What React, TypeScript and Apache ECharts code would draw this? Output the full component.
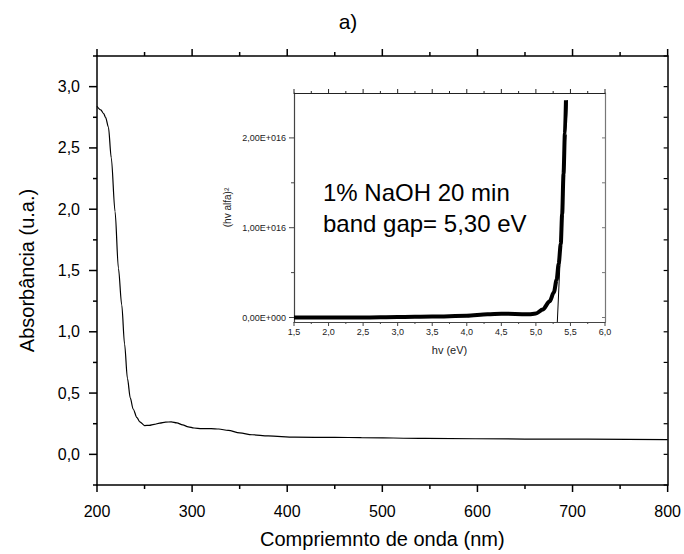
import React, { useEffect, useRef } from "react";
import * as echarts from "echarts";

// Main spectrum
const wavelength = [200, 204, 207, 209, 212, 215, 219, 222.5, 226, 229, 232, 235, 238, 242, 245, 250, 255, 260, 266, 272, 278, 284, 290, 296, 302, 310, 320, 328, 338, 350, 363, 380, 408, 450, 478, 545, 650, 800];
const absorbance = [2.84, 2.81, 2.78, 2.75, 2.67, 2.42, 1.98, 1.52, 1.22, 0.9, 0.62, 0.46, 0.37, 0.3, 0.265, 0.235, 0.237, 0.245, 0.255, 0.263, 0.265, 0.257, 0.24, 0.225, 0.215, 0.21, 0.21, 0.207, 0.195, 0.175, 0.16, 0.15, 0.14, 0.138, 0.137, 0.13, 0.125, 0.12];

// Inset (Tauc plot), values in units of 1E+016
const hv = [1.5, 2.0, 2.5, 3.0, 3.5, 4.0, 4.3, 4.5, 4.7, 4.9, 5.0, 5.1, 5.2, 5.26, 5.3, 5.33, 5.36, 5.38, 5.4, 5.42, 5.435];
const hvAlpha2 = [0.0, 0.0, 0.0, 0.005, 0.01, 0.02, 0.035, 0.042, 0.04, 0.035, 0.045, 0.09, 0.18, 0.28, 0.42, 0.6, 0.82, 1.15, 1.6, 2.05, 2.42];
const tangentX = [5.31, 5.455];
const tangentY = [-0.05, 2.42];

// Axis ranges and tick values
const MAIN_X = [200, 800];
const MAIN_Y = [-0.25, 3.25];
const INSET_X = [1.5, 6.0];
const INSET_Y = [-0.05, 2.5];
const mainXMajor = [200, 300, 400, 500, 600, 700, 800];
const mainXMinor = [250, 350, 450, 550, 650, 750];
const mainYMajor = [0, 0.5, 1.0, 1.5, 2.0, 2.5, 3.0];
const mainYMinor = [-0.25, 0.25, 0.75, 1.25, 1.75, 2.25, 2.75, 3.25];
const insetXMajor = [1.5, 2.0, 2.5, 3.0, 3.5, 4.0, 4.5, 5.0, 5.5, 6.0];
const insetXMinor = [1.75, 2.25, 2.75, 3.25, 3.75, 4.25, 4.75, 5.25, 5.75];
const insetYMajor = [0, 1, 2];
const insetYMinor = [0.5, 1.5];

const FONT = "Liberation Sans, Arial, Helvetica, sans-serif";

export default function App() {
  const ref = useRef<HTMLDivElement>(null);
  useEffect(() => {
    if (!ref.current) return;
    const chart = echarts.init(ref.current, null, { renderer: "svg" });
    const black = "#000";
    const insetLine = "#444";
    const mainAxisBase = {
      type: "value",
      splitLine: { show: false },
      axisTick: { show: false },
      axisLine: { show: true, onZero: false, lineStyle: { color: black, width: 1.5 } },
    };
    const insetAxisBase = {
      type: "value",
      splitLine: { show: false },
      axisTick: { show: false },
      axisLine: { show: true, onZero: false, lineStyle: { color: insetLine, width: 1.2 } },
    };
    // Tick marks drawn as filled rects at positions given by the axes' scales.
    // side: 'down' | 'up' | 'left' (vertical ticks on horizontal axes, horizontal ticks on vertical axes)
    const ticks = (
      xi: number,
      yi: number,
      points: number[][],
      side: string,
      len: number,
      thick: number,
      color: string
    ) => ({
      type: "custom",
      xAxisIndex: xi,
      yAxisIndex: yi,
      silent: true,
      clip: false,
      z: 10,
      data: points,
      renderItem: (params: any, api: any) => {
        const p = api.coord([api.value(0), api.value(1)]);
        let shape: any;
        if (side === "down") shape = { x: p[0] - thick / 2, y: p[1], width: thick, height: len };
        else if (side === "up") shape = { x: p[0] - thick / 2, y: p[1] - len, width: thick, height: len };
        else shape = { x: p[0] - len, y: p[1] - thick / 2, width: len, height: thick };
        return { type: "rect", shape, style: { fill: color } };
      },
    });
    const option: any = {
      animation: false,
      grid: [
        { left: 97, right: 16, top: 56, bottom: 67 },
        { left: 294, right: 79, top: 93, bottom: 232 },
      ],
      xAxis: [
        {
          ...mainAxisBase,
          gridIndex: 0,
          position: "bottom",
          min: MAIN_X[0],
          max: MAIN_X[1],
          interval: 100,
          axisLabel: { fontSize: 16, color: black, margin: 18, fontFamily: FONT },
          name: "Compriemnto de onda (nm)",
          nameLocation: "middle",
          nameGap: 44,
          nameTextStyle: { fontSize: 20, color: black, fontFamily: FONT },
        },
        {
          ...mainAxisBase,
          gridIndex: 0,
          position: "top",
          min: MAIN_X[0],
          max: MAIN_X[1],
          interval: 100,
          axisLabel: { show: false },
        },
        {
          ...insetAxisBase,
          gridIndex: 1,
          position: "bottom",
          min: INSET_X[0],
          max: INSET_X[1],
          interval: 0.5,
          axisLabel: {
            fontSize: 9,
            color: "#222",
            margin: 5,
            fontFamily: FONT,
            formatter: (v: number) => v.toFixed(1).replace(".", ","),
          },
          name: "hv (eV)",
          nameLocation: "middle",
          nameGap: 22,
          nameTextStyle: { fontSize: 11, color: "#222", fontFamily: FONT },
        },
        {
          ...insetAxisBase,
          gridIndex: 1,
          position: "top",
          min: INSET_X[0],
          max: INSET_X[1],
          interval: 0.5,
          axisLine: { show: true, onZero: false, lineStyle: { color: "#222", width: 1.2 } },
          axisLabel: { show: false },
        },
      ],
      yAxis: [
        {
          ...mainAxisBase,
          gridIndex: 0,
          position: "left",
          min: MAIN_Y[0],
          max: MAIN_Y[1],
          interval: 0.25,
          axisLabel: {
            customValues: mainYMajor,
            fontSize: 16,
            color: black,
            margin: 17,
            fontFamily: FONT,
            formatter: (v: number) => v.toFixed(1).replace(".", ","),
          },
          name: "Absorbância (u.a.)",
          nameLocation: "middle",
          nameGap: 60,
          nameTextStyle: { fontSize: 20, color: black, fontFamily: FONT },
        },
        {
          ...mainAxisBase,
          gridIndex: 0,
          position: "right",
          min: MAIN_Y[0],
          max: MAIN_Y[1],
          interval: 0.25,
          axisLabel: { show: false },
        },
        {
          ...insetAxisBase,
          gridIndex: 1,
          position: "left",
          min: INSET_Y[0],
          max: INSET_Y[1],
          axisLabel: {
            customValues: insetYMajor,
            fontSize: 9,
            color: "#222",
            margin: 8,
            fontFamily: FONT,
            formatter: (v: number) => v.toFixed(2).replace(".", ",") + (v === 0 ? "E+000" : "E+016"),
          },
          name: "(hv alfa)²",
          nameLocation: "middle",
          nameGap: 62,
          nameTextStyle: { fontSize: 10, color: "#222", fontFamily: FONT },
        },
        {
          ...insetAxisBase,
          gridIndex: 1,
          position: "right",
          min: INSET_Y[0],
          max: INSET_Y[1],
          axisLine: { show: true, onZero: false, lineStyle: { color: "#777", width: 1.2 } },
          axisLabel: { show: false },
        },
      ],
      series: [
        {
          type: "line",
          xAxisIndex: 0,
          yAxisIndex: 0,
          data: wavelength.map((w, i) => [w, absorbance[i]]),
          symbol: "none",
          smooth: 0.3,
          smoothMonotone: "x",
          lineStyle: { color: black, width: 1.2 },
        },
        {
          type: "line",
          xAxisIndex: 2,
          yAxisIndex: 2,
          data: hv.map((h, i) => [h, hvAlpha2[i]]),
          symbol: "none",
          smooth: 0.3,
          smoothMonotone: "x",
          lineStyle: { color: black, width: 4 },
        },
        {
          type: "line",
          xAxisIndex: 2,
          yAxisIndex: 2,
          data: tangentX.map((h, i) => [h, tangentY[i]]),
          symbol: "none",
          lineStyle: { color: black, width: 1 },
        },
        // main frame ticks
        ticks(0, 0, mainXMajor.map((v) => [v, MAIN_Y[0]]), "down", 7, 1.5, black),
        ticks(0, 0, mainXMinor.map((v) => [v, MAIN_Y[0]]), "down", 4, 1.5, black),
        ticks(0, 0, mainXMajor.map((v) => [v, MAIN_Y[1]]), "up", 7, 1.5, black),
        ticks(0, 0, mainXMinor.map((v) => [v, MAIN_Y[1]]), "up", 4, 1.5, black),
        ticks(0, 0, mainYMajor.map((v) => [MAIN_X[0], v]), "left", 8, 1.5, black),
        ticks(0, 0, mainYMinor.map((v) => [MAIN_X[0], v]), "left", 4, 1.5, black),
        ticks(0, 0, [...mainYMajor, ...mainYMinor].map((v) => [MAIN_X[1], v]), "left", 4, 1.2, black),
        // inset ticks
        ticks(2, 2, insetXMajor.map((v) => [v, INSET_Y[0]]), "down", 4, 1, insetLine),
        ticks(2, 2, insetXMinor.map((v) => [v, INSET_Y[0]]), "down", 2, 1, insetLine),
        ticks(2, 2, insetXMajor.map((v) => [v, INSET_Y[1]]), "up", 4, 1, "#222"),
        ticks(2, 2, insetXMinor.map((v) => [v, INSET_Y[1]]), "up", 2, 1, "#222"),
        ticks(2, 2, insetYMajor.map((v) => [INSET_X[0], v]), "left", 5, 1, insetLine),
        ticks(2, 2, insetYMinor.map((v) => [INSET_X[0], v]), "left", 3, 1, insetLine),
        ticks(2, 2, [...insetYMajor, ...insetYMinor].map((v) => [INSET_X[1], v]), "left", 3, 1, "#777"),
      ],
      graphic: [
        {
          type: "text",
          x: 348,
          y: 21,
          style: { text: "a)", fontSize: 21, fill: black, fontFamily: FONT, align: "center", verticalAlign: "middle" },
        },
        {
          type: "text",
          x: 323,
          y: 192,
          style: { text: "1% NaOH 20 min", fontSize: 24, fill: black, fontFamily: FONT, align: "left", verticalAlign: "middle" },
        },
        {
          type: "text",
          x: 323,
          y: 223,
          style: { text: "band gap= 5,30 eV", fontSize: 24, fill: black, fontFamily: FONT, align: "left", verticalAlign: "middle" },
        },
      ],
    };
    chart.setOption(option);
    return () => chart.dispose();
  }, []);
  return (
    <div
      ref={ref}
      style={{ position: "absolute", left: 0, top: 0, width: 684, height: 554, background: "#fff" }}
    />
  );
}
